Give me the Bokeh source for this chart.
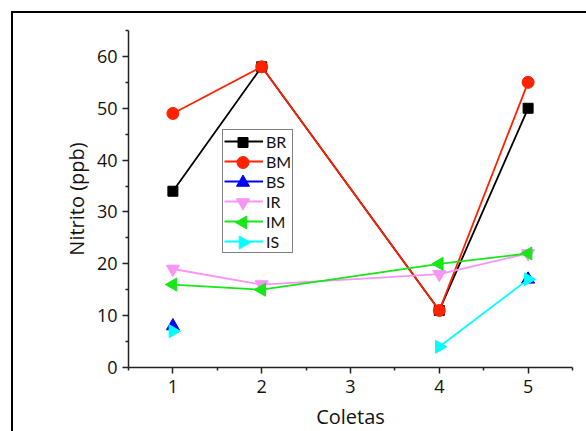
import numpy as np
from bokeh.plotting import figure
from bokeh.models import FixedTicker, Legend, LegendItem, Range1d
from bokeh.embed import file_html
from bokeh.resources import INLINE

# Data
coletas = [1, 2, 4, 5]
BR = [34, 58, 11, 50]
BM = [49, 58, 11, 55]
BS = [8, np.nan, np.nan, 17]
IR = [19, 16, 18, 22]
IM = [16, 15, 20, 22]
IS = [7, np.nan, 4, 17]

x_ticks = [1, 2, 3, 4, 5]
x_minor = [0.5, 1.5, 2.5, 3.5, 4.5, 5.5]
y_ticks = [0, 10, 20, 30, 40, 50, 60]
y_minor = [5, 15, 25, 35, 45, 55, 65]

series = [
    ("BR", BR, "#000000", "square", 0.0, 10),
    ("BM", BM, "#ff2200", "circle", 0.0, 12),
    ("BS", BS, "#0000ff", "triangle", 0.0, 13),
    ("IR", IR, "#f794f7", "inverted_triangle", 0.0, 13),
    ("IM", IM, "#17e617", "triangle", np.pi / 2, 13),
    ("IS", IS, "#00ffff", "triangle", -np.pi / 2, 13),
]

FONT = "Open Sans"
LEG_FONT = "Lato"
X0, X1, Y0, Y1 = 0.5, 5.5, 0, 65
FW, FH = 444, 337

p = figure(frame_width=FW, frame_height=FH, output_backend="svg", toolbar_location=None,
           x_range=Range1d(X0, X1), y_range=Range1d(Y0, Y1),
           min_border_left=115, min_border_top=17, min_border_right=14,
           min_border_bottom=64,
           styles={"margin-left": "11px", "margin-top": "11px",
                   "border-left": "2px solid black", "border-top": "2px solid black"})
p.outline_line_color = None
p.grid.visible = False
p.background_fill_color = "white"
p.border_fill_color = "white"

for ax in (p.xaxis[0], p.yaxis[0]):
    ax.axis_line_color = "#222222"
    ax.axis_line_width = 1.5
    ax.major_tick_line_color = "#222222"
    ax.major_tick_line_width = 1.5
    ax.minor_tick_line_color = "#222222"
    ax.minor_tick_line_width = 1.5
    ax.major_tick_out = 6
    ax.major_tick_in = 0
    ax.minor_tick_out = 3
    ax.minor_tick_in = 0
    ax.major_label_text_font = FONT
    ax.major_label_text_font_size = "18px"
    ax.major_label_text_color = "#111111"
    ax.axis_label_text_font = FONT
    ax.axis_label_text_font_size = "20px"
    ax.axis_label_text_font_style = "normal"
    ax.axis_label_text_color = "#111111"

p.xaxis.ticker = FixedTicker(ticks=x_ticks, minor_ticks=x_minor)
p.yaxis.ticker = FixedTicker(ticks=y_ticks, minor_ticks=y_minor)
p.xaxis.axis_label = "Coletas"
p.yaxis.axis_label = "Nitrito (ppb)"
p.xaxis.major_label_standoff = 6
p.yaxis.major_label_standoff = 5
p.xaxis.axis_label_standoff = 7
p.yaxis.axis_label_standoff = 4

items = []
for name, vals, color, marker, ang, size in series:
    r_line = p.line(coletas, vals, line_color=color, line_width=1.8)
    p.scatter(coletas, vals, marker=marker, size=size, angle=ang,
              fill_color=color, line_color=color)
    items.append(LegendItem(label=name, renderers=[r_line]))

LEG_X, LEG_Y, PAD, ROW, GW = 94, 114, 1, 20, 39
legend = Legend(items=items, location=(LEG_X, LEG_Y), border_line_color="black",
                border_line_width=1, background_fill_alpha=0.0,
                glyph_width=GW, glyph_height=ROW,
                spacing=0, padding=PAD, margin=0, label_standoff=3,
                label_text_font=LEG_FONT, label_text_font_size="16px",
                label_height=ROW, label_text_color="#111111")
p.add_layout(legend, "center")

# Legend markers: Bokeh legends shrink markers and ignore their angle, so the
# legend's markers are drawn as glyphs seen through its transparent box, placed
# from the legend's pixel layout converted through the fixed frame size.
n = len(items)
top = LEG_Y + 2 * PAD + n * ROW
for i, (name, vals, color, marker, ang, size) in enumerate(series):
    sx = LEG_X + PAD + GW / 2
    sy = top - PAD - ROW / 2 - i * ROW
    lx = X0 + sx * (X1 - X0) / FW
    ly = Y0 + sy * (Y1 - Y0) / FH
    p.scatter([lx], [ly], marker=marker, size=size, angle=ang,
              fill_color=color, line_color=color)

open("out.html", "w").write(file_html(p, INLINE))
